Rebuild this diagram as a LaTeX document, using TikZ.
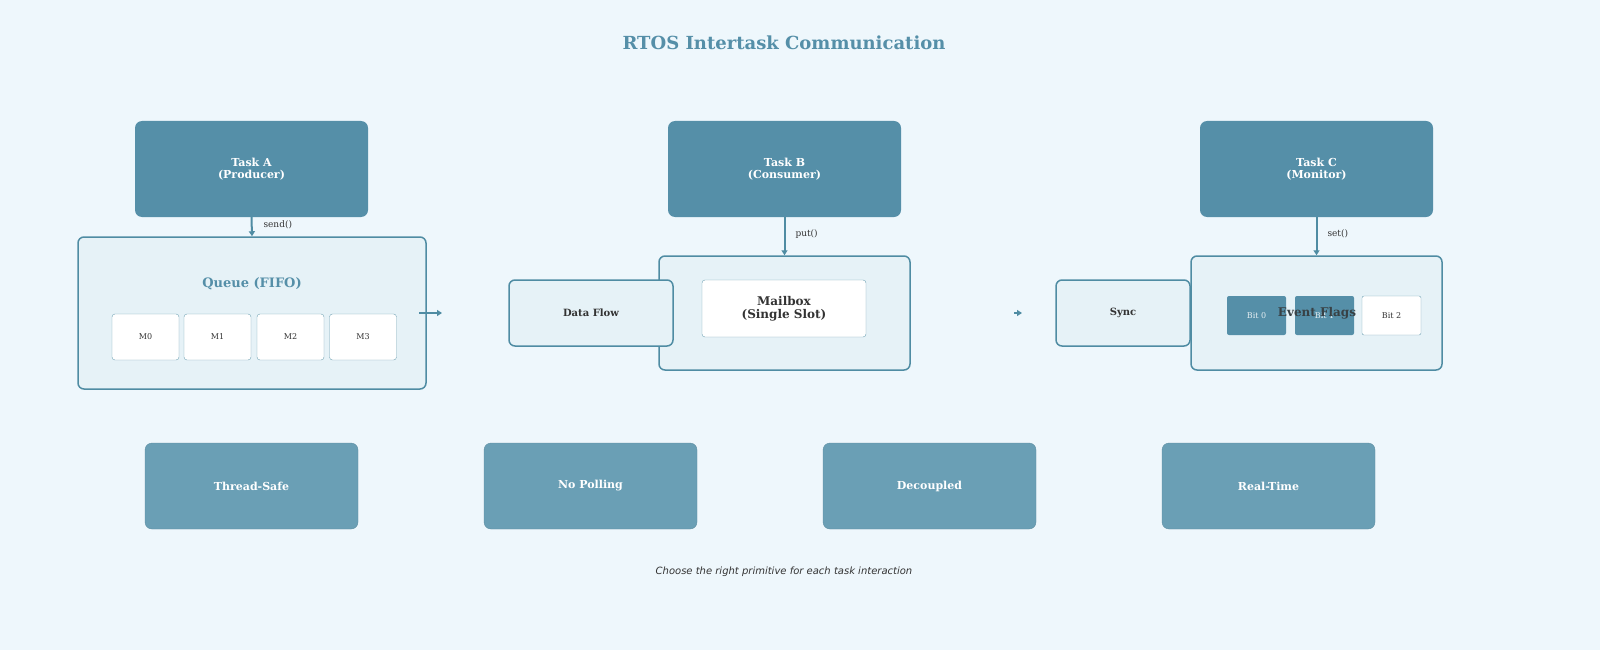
\documentclass[tikz,border=0pt]{standalone}
\usepackage{fontspec}
\setmainfont{DejaVu Serif}
\newfontfamily\capfont{DejaVu Sans}
\usetikzlibrary{arrows.meta}
\definecolor{bg}{HTML}{EEF7FC}
\definecolor{task}{HTML}{558FA8}
\definecolor{feat}{HTML}{6A9FB5}
\definecolor{edge}{HTML}{4F8CA3}
\definecolor{pale}{HTML}{E6F2F7}
\definecolor{txt}{HTML}{333333}
\begin{document}
\begin{tikzpicture}[x=1pt,y=-1pt,
 box/.style={draw=edge,line width=1.5pt,rounded corners=6pt,fill=pale},
 taskb/.style={fill=task,rounded corners=7pt,text=white,font=\bfseries\fontsize{11}{12}\selectfont,align=center},
 featb/.style={fill=feat,draw=feat!90!black,rounded corners=7pt,text=white,font=\bfseries\fontsize{11}{12}\selectfont},
 cell/.style={draw=edge!80,fill=white,rounded corners=3pt,font=\fontsize{8}{9}\selectfont,text=txt},
 arr/.style={draw=edge,line width=2pt,-{Triangle[length=5pt,width=6pt]}},
 lbl/.style={font=\fontsize{9}{10}\selectfont,text=txt,anchor=west}]
\fill[bg] (0,0) rectangle (1600,650);
\node[text=task,font=\bfseries\fontsize{18}{20}\selectfont] (title) at (784,43) {RTOS Intertask Communication};
% tasks
\node[taskb,minimum width=233,minimum height=96] (ta) at (251.5,169) {Task A\\(Producer)};
\node[taskb,minimum width=233,minimum height=96] (tb) at (784.5,169) {Task B\\(Consumer)};
\node[taskb,minimum width=233,minimum height=96] (tc) at (1316.5,169) {Task C\\(Monitor)};
% queue
\node[box,minimum width=348,minimum height=152] (q) at (252,313) {};
\node[text=task,font=\bfseries\fontsize{13}{14}\selectfont] (qt) at (252,284) {Queue (FIFO)};
\node[cell,minimum width=67,minimum height=46] (m0) at (145.5,337) {M0};
\node[cell,minimum width=67,minimum height=46] (m1) at (217.5,337) {M1};
\node[cell,minimum width=67,minimum height=46] (m2) at (290.5,337) {M2};
\node[cell,minimum width=67,minimum height=46] (m3) at (363,337) {M3};
\draw[arr] (ta.south) -- (q.north);
\node[lbl] (sendl) at (260,225) {send()};
% mailbox
\node[box,minimum width=251,minimum height=114] (mb) at (784.5,313) {};
\node[box,minimum width=164,minimum height=66] (df) at (591,313) {};
\node[font=\bfseries\fontsize{10}{11}\selectfont,text=txt] (dft) at (591,313) {Data Flow};
\node[draw=edge!80,fill=white,rounded corners=3pt,minimum width=164,minimum height=57,font=\bfseries\fontsize{12}{13}\selectfont,text=txt,align=center] (mbi) at (784,308.5) {Mailbox\\(Single Slot)};
\draw[arr] (tb.south) -- (mb.north);
\node[lbl] (putl) at (792,234) {put()};
\coordinate (qa) at (419,313);
\draw[arr] (qa) -- ++(23,0);
% event flags
\node[box,minimum width=251,minimum height=114] (ef) at (1316.5,313) {};
\node[box,minimum width=134,minimum height=66] (sy) at (1123,313) {};
\node[font=\bfseries\fontsize{10}{11}\selectfont,text=txt] (syt) at (1123,313) {Sync};
\node[fill=task,rounded corners=2pt,minimum width=59,minimum height=39,font=\fontsize{8}{9}\selectfont,text=white!85!task] (b0) at (1256.5,315.5) {Bit 0};
\node[fill=task,rounded corners=2pt,minimum width=59,minimum height=39,font=\fontsize{8}{9}\selectfont,text=white!85!task] (b1) at (1324.5,315.5) {Bit 1};
\node[draw=edge!80,fill=white,rounded corners=2pt,minimum width=59,minimum height=39,font=\fontsize{8}{9}\selectfont,text=txt] (b2) at (1391.5,315.5) {Bit 2};
\node[font=\bfseries\fontsize{12}{13}\selectfont,text=txt!85!task] (eft) at (1317,313) {Event Flags};
\draw[arr] (tc.south) -- (ef.north);
\node[lbl] (setl) at (1324,234) {set()};
\coordinate (sa) at (1014,313);
\draw[edge,line width=1.5pt,-{Triangle[length=5pt,width=6pt]}] (sa) -- ++(8,0);
% features
\node[featb,minimum width=213,minimum height=86] (f1) at (251.5,486) {Thread-Safe};
\node[featb,minimum width=213,minimum height=86] (f2) at (590.5,486) {No Polling};
\node[featb,minimum width=213,minimum height=86] (f3) at (929.5,486) {Decoupled};
\node[featb,minimum width=213,minimum height=86] (f4) at (1268.5,486) {Real-Time};
\node[font=\capfont\itshape\fontsize{10}{11}\selectfont,text=txt] (cap) at (784,572) {Choose the right primitive for each task interaction};
\end{tikzpicture}
\end{document}
